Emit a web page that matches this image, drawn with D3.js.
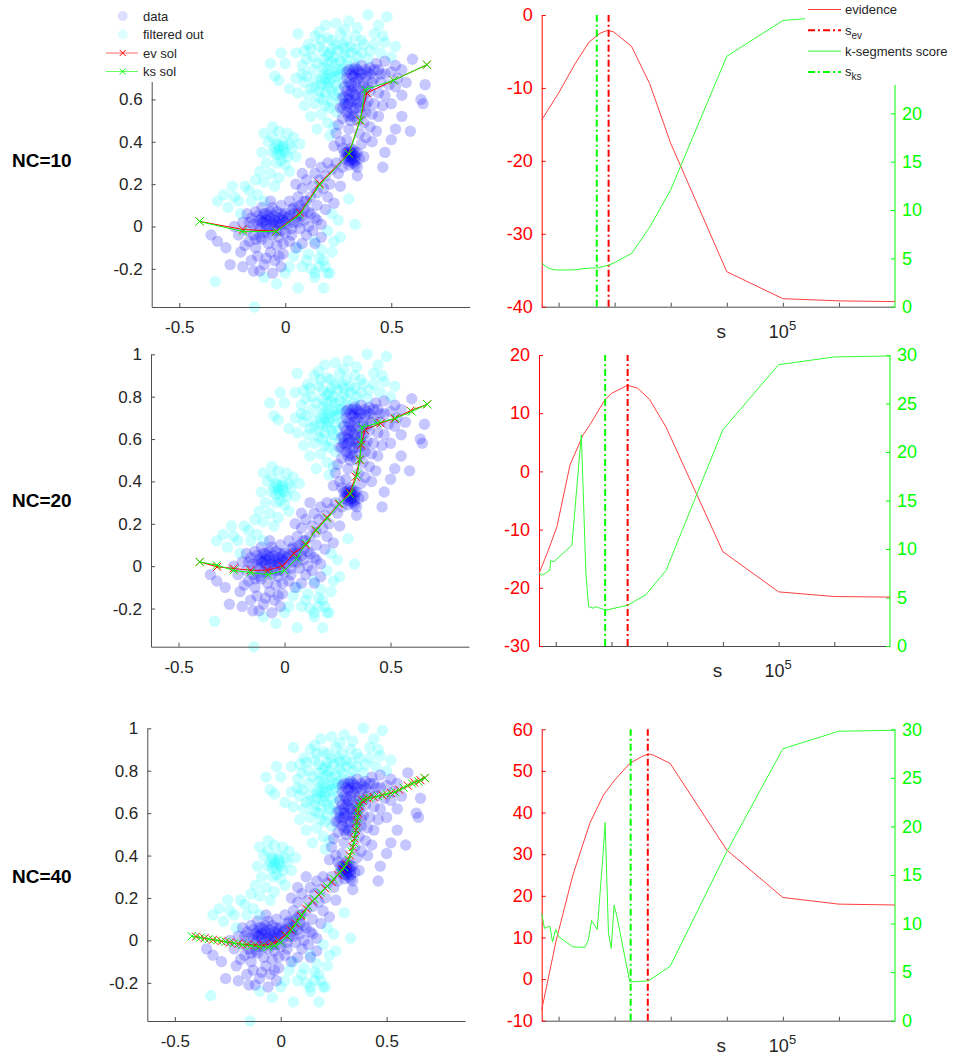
<!DOCTYPE html>
<meta charset="utf-8">
<script src="https://cdnjs.cloudflare.com/ajax/libs/d3/7.8.5/d3.min.js"></script>
<style>
  body { margin: 0; background: #fff; }
  svg { font-family: 'Liberation Sans', Arial, Helvetica, sans-serif; }
</style>
<div id="chart"></div>
<script>

  // ---------- data ----------
  const rowLabels = ['NC=10', 'NC=20', 'NC=40']

  // points kept by the filter (blue)
  const dataPts = [
    [-0.35,-0.04],[-0.32,-0.07],[-0.28,-0.10],[-0.26,-0.18],[-0.24,0.00],[-0.22,-0.04],[-0.21,-0.12],[-0.20,-0.19],[-0.20,0.02],[-0.19,-0.09],
    [-0.18,-0.02],[-0.17,-0.07],[-0.16,0.04],[-0.16,-0.16],[-0.15,-0.04],[-0.15,-0.21],[-0.14,0.07],[-0.14,-0.10],[-0.13,-0.14],[-0.12,0.03],
    [-0.12,-0.01],[-0.12,-0.21],[-0.11,0.09],[-0.11,-0.06],[-0.10,0.02],[-0.10,-0.18],[-0.09,0.06],[-0.09,0.01],[-0.09,-0.15],[-0.08,-0.03],
    [-0.08,-0.08],[-0.07,0.12],[-0.07,0.04],[-0.07,-0.12],[-0.06,0.09],[-0.06,0.02],[-0.06,-0.22],[-0.05,0.00],[-0.05,-0.16],[-0.04,0.07],
    [-0.04,-0.09],[-0.03,0.04],[-0.03,-0.05],[-0.03,-0.14],[-0.02,0.10],[-0.02,-0.02],[-0.02,-0.19],[-0.01,0.03],[-0.01,-0.13],[0.00,0.06],
    [0.00,-0.03],[0.01,0.01],[0.02,0.12],[0.02,-0.07],[0.03,0.08],[0.03,-0.04],[0.04,0.02],[0.05,0.04],[0.05,-0.10],[0.06,0.06],
    [0.07,0.10],[0.07,-0.01],[0.08,-0.08],[0.09,0.03],[0.10,0.12],[0.10,-0.04],[0.11,0.00],[0.12,0.06],[0.13,-0.02],[0.14,-0.08],
    [0.15,0.03],[0.17,-0.05],[-0.11,0.04],[-0.08,0.05],[-0.05,0.05],[-0.13,0.00],[-0.10,-0.03],[-0.04,0.02],[-0.18,0.06],
    [-0.11,0.02],[-0.09,0.03],[-0.07,0.01],[-0.05,0.03],[-0.03,0.01],[-0.01,0.05],[0.01,0.04],[-0.13,0.05],[-0.10,0.06],[-0.08,-0.01],
    [-0.06,-0.04],[-0.04,-0.02],[-0.02,0.01],[0.00,0.02],[0.02,0.05],[0.04,0.06],[-0.12,-0.05],[-0.15,0.01],[-0.17,0.02],[0.06,0.02],
    [0.08,0.05],[0.03,-0.01],[-0.07,0.07],[-0.01,-0.08],[0.06,0.09],[0.09,0.08],[-0.14,-0.06],[-0.02,0.06],
    [0.04,0.09],[0.05,0.20],[0.06,0.14],[0.08,0.18],[0.08,0.25],[0.09,0.12],[0.10,0.22],[0.11,0.07],[0.12,0.14],[0.12,0.30],
    [0.13,0.19],[0.14,0.04],[0.14,0.25],[0.15,0.10],[0.15,0.16],[0.16,0.22],[0.17,0.01],[0.17,0.28],[0.18,0.18],[0.19,0.08],
    [0.19,0.24],[0.20,0.14],[0.20,0.30],[0.21,0.20],[0.22,0.27],[0.23,0.11],[0.24,0.30],[0.25,0.25],[0.26,0.19],[0.27,0.28],
    [0.23,0.38],[0.26,0.40],[0.27,0.37],[0.28,0.32],[0.29,0.35],[0.29,0.41],[0.30,0.31],[0.30,0.33],[0.31,0.34],[0.31,0.37],
    [0.32,0.30],[0.32,0.36],[0.33,0.33],[0.33,0.31],[0.34,0.35],[0.34,0.28],[0.34,0.24],[0.35,0.32],[0.36,0.39],[0.37,0.33],
    [0.31,0.32],[0.30,0.36],[0.30,0.34],[0.31,0.31],[0.32,0.34],[0.32,0.32],[0.33,0.35],[0.29,0.33],[0.31,0.35],[0.33,0.29],
    [0.30,0.29],[0.28,0.35],
    [0.24,0.44],[0.25,0.48],[0.26,0.56],[0.27,0.51],[0.27,0.61],[0.28,0.66],[0.29,0.57],[0.29,0.70],[0.30,0.46],[0.30,0.58],
    [0.30,0.62],[0.30,0.74],[0.31,0.50],[0.31,0.53],[0.31,0.67],[0.31,0.72],[0.32,0.55],[0.32,0.63],[0.32,0.71],[0.33,0.60],
    [0.33,0.68],[0.33,0.75],[0.34,0.50],[0.34,0.58],[0.34,0.65],[0.35,0.44],[0.35,0.56],[0.35,0.70],[0.35,0.73],[0.36,0.61],
    [0.36,0.64],[0.36,0.76],[0.37,0.49],[0.37,0.66],[0.37,0.68],[0.38,0.42],[0.38,0.54],[0.38,0.71],[0.39,0.59],[0.39,0.73],
    [0.40,0.47],[0.40,0.64],[0.40,0.75],[0.41,0.40],[0.41,0.53],[0.42,0.58],[0.42,0.70],[0.43,0.45],[0.43,0.77],[0.44,0.52],
    [0.44,0.63],[0.44,0.74],[0.45,0.68],[0.46,0.57],[0.47,0.62],[0.47,0.72],[0.47,0.78],[0.49,0.67],[0.50,0.58],[0.50,0.73],
    [0.52,0.66],[0.52,0.76],[0.53,0.70],[0.55,0.62],[0.55,0.74],[0.57,0.68],
    [0.29,0.73],[0.30,0.68],[0.32,0.74],[0.33,0.72],[0.34,0.70],[0.34,0.74],[0.31,0.64],[0.32,0.66],[0.33,0.62],[0.29,0.64],
    [0.30,0.60],[0.31,0.59],[0.28,0.58],[0.29,0.54],[0.30,0.52],[0.32,0.52],[0.33,0.56],[0.36,0.72],[0.38,0.74],[0.40,0.72],
    [0.42,0.74],[0.37,0.62],[0.39,0.66],[0.35,0.59],[0.36,0.53],[0.41,0.68],[0.45,0.72],[0.38,0.57],[0.28,0.61],[0.27,0.56],
    [0.60,0.79],[0.66,0.67],[0.65,0.58],[0.64,0.60],[0.59,0.45],[0.55,0.52],[0.52,0.46],[0.50,0.41],[0.47,0.35],[0.46,0.28]
  ]

  // points removed by the filter (cyan)
  const filteredPts = [
    [0.39,1.00],[0.48,0.99],[0.24,0.96],[0.30,0.97],[0.19,0.95],[0.34,0.94],[0.44,0.95],[0.06,0.91],[0.14,0.90],[0.20,0.89],
    [0.26,0.91],[0.33,0.90],[0.42,0.91],[0.47,0.87],[-0.02,0.82],[0.05,0.82],[0.09,0.83],[-0.07,0.77],[0.00,0.77],[-0.05,0.71],
    [-0.03,0.69],[0.52,0.85],[0.11,0.86],[0.16,0.85],[0.22,0.84],[0.27,0.86],[0.31,0.85],[0.37,0.86],[0.40,0.83],[0.45,0.82],
    [0.13,0.80],[0.18,0.79],[0.23,0.80],[0.28,0.81],[0.34,0.80],[0.39,0.79],[0.08,0.76],[0.13,0.74],[0.18,0.75],[0.21,0.72],
    [0.24,0.77],[0.29,0.76],[0.33,0.77],[0.05,0.70],[0.09,0.68],[0.14,0.69],[0.19,0.70],[0.24,0.71],[0.27,0.68],[0.06,0.63],
    [0.11,0.62],[0.16,0.64],[0.20,0.66],[0.23,0.62],[0.26,0.60],[0.09,0.57],[0.14,0.58],[0.18,0.60],[0.21,0.56],[0.24,0.54],
    [0.12,0.52],[0.17,0.53],[0.20,0.49],[0.23,0.47],[0.15,0.46],[0.21,0.43],[0.02,0.65],[0.16,0.92],[0.22,0.88],[0.28,0.93],
    [0.36,0.88],[0.25,0.83],[0.20,0.81],[0.15,0.77],[0.10,0.71],[0.17,0.67],[0.22,0.64],[0.12,0.65],[0.19,0.57],[0.26,0.72],
    [0.29,0.79],[0.42,0.86],[0.50,0.80],[0.46,0.90],
    [0.18,0.72],[0.20,0.74],[0.22,0.70],[0.23,0.73],[0.20,0.77],[0.22,0.78],[0.17,0.70],[0.19,0.68],[0.21,0.68],[0.24,0.67],
    [0.25,0.74],[0.26,0.78],[0.21,0.82],[0.18,0.83],[0.24,0.86],[0.29,0.88],[0.31,0.82],[0.27,0.74],[0.16,0.61],[0.19,0.63],
    [0.22,0.59],[0.14,0.66],[0.25,0.64],[0.28,0.84],[0.33,0.84],[0.36,0.82],[0.17,0.88],[0.12,0.84],[0.10,0.79],[0.08,0.72],
    [-0.10,0.44],[-0.06,0.47],[-0.03,0.45],[0.01,0.44],[0.04,0.42],[-0.08,0.40],[-0.04,0.39],[-0.01,0.38],[0.03,0.37],[0.07,0.39],
    [-0.11,0.35],[-0.06,0.35],[-0.02,0.34],[0.01,0.33],[0.05,0.33],[-0.09,0.30],[-0.04,0.30],[0.00,0.29],[-0.12,0.26],[-0.07,0.25],
    [-0.03,0.23],[0.02,0.26],[-0.10,0.21],[-0.05,0.19],[-0.14,0.22],[-0.03,0.36],[-0.01,0.36],
    [-0.03,0.38],[-0.01,0.40],[-0.04,0.34],[0.00,0.35],[-0.02,0.31],[-0.05,0.37],[0.02,0.39],[-0.06,0.42],
    [-0.29,0.15],[-0.25,0.19],[-0.19,0.19],[-0.22,0.12],[-0.16,0.12],[-0.27,0.09],[-0.21,0.06],[-0.13,0.15],[-0.10,0.12],[-0.32,0.12],
    [-0.17,0.17],[-0.24,0.14],
    [0.06,-0.10],[0.11,-0.13],[0.14,-0.07],[0.17,-0.11],[0.20,-0.02],[0.23,-0.07],[0.19,-0.19],[0.14,-0.24],[0.06,-0.29],[0.00,-0.22],
    [0.02,-0.19],[0.08,-0.19],[0.20,-0.22],[0.18,-0.29],[0.26,-0.05],[0.30,0.13],[0.25,0.03],[0.22,0.06],[0.33,0.01],[0.14,-0.22],
    [0.21,-0.22],[0.10,-0.16],[0.16,-0.15],[0.04,-0.14],[0.16,-0.19],[0.12,-0.20],[0.18,-0.16],[0.22,-0.12],
    [-0.33,-0.26],[-0.145,-0.38],[-0.04,-0.27],[-0.10,-0.24]
  ]

  // fitted polylines (ev sol = red, ks sol = green)
  const evSol10 = [[-0.404,0.024],[-0.20,-0.014],[-0.042,-0.022],[0.07,0.065],[0.162,0.203],[0.30,0.345],[0.352,0.50],[0.385,0.63],[0.51,0.69],[0.668,0.764]]
  const ksSol10 = [[-0.404,0.024],[-0.20,-0.024],[-0.042,-0.024],[0.067,0.055],[0.162,0.196],[0.30,0.342],[0.354,0.502],[0.377,0.646],[0.511,0.69],[0.668,0.764]]
  const evSol20 = [[-0.40,0.02],[-0.318,-0.003],[-0.24,-0.011],[-0.16,-0.019],[-0.08,-0.019],[-0.01,0.0],[0.044,0.06],[0.10,0.10],[0.146,0.17],[0.20,0.23],
    [0.256,0.293],[0.308,0.347],[0.335,0.422],[0.354,0.501],[0.362,0.572],[0.379,0.643],[0.453,0.675],[0.519,0.697],[0.594,0.734],[0.673,0.764]]
  const ksSol20 = [[-0.40,0.02],[-0.32,0.005],[-0.24,-0.02],[-0.16,-0.03],[-0.077,-0.04],[0.0,-0.02],[0.057,0.036],[0.10,0.107],[0.15,0.17],[0.20,0.225],
    [0.26,0.296],[0.31,0.34],[0.343,0.43],[0.355,0.504],[0.362,0.588],[0.366,0.656],[0.437,0.675],[0.524,0.698],[0.60,0.73],[0.673,0.764]]
  const evSol40 = [[-0.40,0.018],[-0.36,0.01],[-0.32,0.003],[-0.28,-0.004],[-0.24,-0.01],[-0.20,-0.016],[-0.16,-0.02],[-0.12,-0.022],[-0.08,-0.022],[-0.04,-0.015],
    [-0.01,0.0],[0.02,0.025],[0.045,0.05],[0.07,0.08],[0.095,0.115],[0.12,0.15],[0.15,0.185],[0.18,0.215],[0.21,0.245],[0.24,0.275],
    [0.27,0.31],[0.29,0.335],[0.31,0.36],[0.327,0.40],[0.34,0.44],[0.348,0.48],[0.355,0.52],[0.36,0.56],[0.365,0.60],[0.372,0.635],
    [0.385,0.66],[0.41,0.67],[0.44,0.675],[0.48,0.685],[0.52,0.695],[0.56,0.71],[0.60,0.73],[0.63,0.745],[0.66,0.755],[0.68,0.766]]
  const ksSol40 = [[-0.42,0.02],[-0.38,0.013],[-0.34,0.006],[-0.30,0.0],[-0.26,-0.006],[-0.22,-0.013],[-0.18,-0.02],[-0.14,-0.025],[-0.10,-0.03],[-0.06,-0.032],
    [-0.03,-0.025],[0.0,-0.01],[0.03,0.02],[0.055,0.055],[0.08,0.09],[0.10,0.12],[0.13,0.16],[0.16,0.195],[0.19,0.225],[0.22,0.255],
    [0.25,0.29],[0.28,0.32],[0.30,0.345],[0.32,0.38],[0.335,0.42],[0.345,0.46],[0.352,0.50],[0.358,0.54],[0.362,0.58],[0.366,0.62],
    [0.375,0.65],[0.39,0.665],[0.42,0.672],[0.46,0.68],[0.50,0.69],[0.54,0.70],[0.58,0.72],[0.62,0.74],[0.65,0.75],[0.68,0.766]]

  // evidence and k-segments score against s
  const sEv10 = [5, 10, 20, 35, 55, 75, 95, 200, 420, 1000, 1e4, 1e5, 1e6, 1e7]
  const evidence10 = [-14.4, -10.7, -6.6, -3.7, -2.5, -2.1, -2.3, -4.3, -9.4, -17.6, -35.2, -38.9, -39.2, -39.3]
  const sKs10 = [5, 6.5, 8.7, 18, 36, 48, 78, 95, 200, 430, 1000, 1e4, 1e5, 2.7e5, 1e6, 1e7]
  const ksScore10 = [4.5, 4.0, 3.8, 3.8, 4.0, 4.0, 4.3, 4.5, 5.5, 8.3, 12.1, 25.9, 29.6, 29.8, 29.9, 29.9]

  const sEv20 = [5, 7, 10.5, 18, 31, 41, 76, 100, 195, 295, 480, 955, 1e4, 1e5, 1e6, 1e7]
  const evidence20 = [-17.5, -14.1, -9.5, 1.1, 6.3, 8.0, 12.3, 13.4, 14.8, 14.3, 12.4, 7.6, -13.8, -20.7, -21.5, -21.6]
  const sKs20 = [5, 5.6, 6.5, 7.8, 8.1, 9.3, 19.5, 28.8, 34.7, 38.9, 46.8, 53.7, 61.7, 79.4, 195, 417, 955, 1e4, 1e5, 1e6, 1e7]
  const ksScore20 = [7.5, 7.3, 7.5, 7.8, 8.8, 8.7, 10.4, 21.8, 7.5, 4.05, 3.9, 4.05, 3.9, 3.7, 4.2, 5.3, 7.8, 22.3, 29.0, 29.8, 29.9]

  const sEv40 = [5, 9.1, 18, 36, 63, 100, 186, 300, 400, 490, 977, 1e4, 1e5, 1e6, 1e7]
  const evidence40 = [-7.4, 9.4, 25.0, 37.4, 44.2, 47.8, 51.8, 53.4, 54.1, 53.8, 51.8, 31.0, 19.6, 18.0, 17.8]
  const sKs40 = [5, 5.6, 6.6, 7, 7.8, 8.9, 10, 18, 29.5, 33.9, 38.9, 49, 61.7, 67.6, 77.6, 87, 97.7, 110, 186, 400, 977, 1e4, 1e5, 1e6, 1e7]
  const ksScore40 = [11.05, 9.5, 9.7, 9.7, 8.1, 9.4, 8.65, 7.6, 7.55, 8.3, 10.3, 9.4, 16.9, 20.4, 9.0, 7.45, 11.9, 10.7, 4.0, 4.1, 5.6, 17.4, 28.0, 29.8, 29.9]

  // chosen s values (vertical dash-dot lines)
  const sEvChosen = [78, 195, 390]
  const sKsChosen = [48, 77, 193]

  // tick values
  const xTicksScatter = [-0.5, 0, 0.5]
  const yTicksScatter = [[-0.2, 0, 0.2, 0.4, 0.6], [-0.2, 0, 0.2, 0.4, 0.6, 0.8, 1], [-0.2, 0, 0.2, 0.4, 0.6, 0.8, 1]]
  const sTicks = [1e1, 1e2, 1e3, 1e4, 1e5, 1e6]
  const evTicks = [[-40, -30, -20, -10, 0], [-30, -20, -10, 0, 10, 20], [-10, 0, 10, 20, 30, 40, 50, 60]]
  const ksTicks = [[0, 5, 10, 15, 20], [0, 5, 10, 15, 20, 25, 30], [0, 5, 10, 15, 20, 25, 30]]

  // ---------- layout ----------
  const W = 957, H = 1057
  const textCol = '#262626', axisCol = '#4d4d4d'
  const red = '#ff0000', green = '#00ff00'
  const xDom = [-0.63, 0.87], yDom = [-0.38, 1.0], sDom = [5, 1e7]

  const scatterBoxes = [
    { left: 151.7, right: 469.7, top: 14.7, bottom: 307 },
    { left: 151, right: 469, top: 354.3, bottom: 646.7 },
    { left: 147.3, right: 465, top: 728.3, bottom: 1021 }
  ]
  const scoreBoxes = [
    { left: 541.7, right: 895, top: 15, bottom: 306.7, evDom: [-40, 0], ksDom: [0, 30.17] },
    { left: 539, right: 890, top: 355, bottom: 646, evDom: [-30, 20], ksDom: [0, 30] },
    { left: 541.7, right: 895, top: 729.3, bottom: 1020.7, evDom: [-10, 60], ksDom: [0, 30] }
  ]
  const rowLabelY = [166.5, 507, 883]

  const svg = d3.select('#chart').append('svg').attr('width', W).attr('height', H)

  const fmt = d => String(+d.toFixed(2))
  const crossPath = 'M-4,-4L4,4M-4,4L4,-4'

  function styleAxis(g, col, textColor, size) {
    g.select('.domain').attr('stroke', col).attr('stroke-width', 1)
    g.selectAll('.tick line').attr('stroke', col)
    g.selectAll('.tick text').attr('fill', textColor).attr('font-size', size)
      .attr('font-family', "'Liberation Sans', Arial, sans-serif")
  }

  function drawCrossLine(g, pts, color, x, y) {
    const line = d3.line().x(d => x(d[0])).y(d => y(d[1]))
    g.append('path').datum(pts).attr('d', line)
      .attr('fill', 'none').attr('stroke', color).attr('stroke-width', 1)
    g.selectAll(null).data(pts).join('path')
      .attr('transform', d => `translate(${x(d[0])},${y(d[1])})`)
      .attr('d', crossPath).attr('stroke', color).attr('stroke-width', 1).attr('fill', 'none')
  }

  function drawScatter(i, evSol, ksSol) {
    const box = scatterBoxes[i]
    const x = d3.scaleLinear().domain(xDom).range([box.left, box.right])
    const y = d3.scaleLinear().domain(yDom).range([box.bottom, box.top])
    const g = svg.append('g')

    g.append('g').selectAll('circle').data(filteredPts).join('circle')
      .attr('cx', d => x(d[0])).attr('cy', d => y(d[1])).attr('r', 5.7)
      .attr('fill', '#00ffff').attr('fill-opacity', 0.2)
    g.append('g').selectAll('circle').data(dataPts).join('circle')
      .attr('cx', d => x(d[0])).attr('cy', d => y(d[1])).attr('r', 5.7)
      .attr('fill', '#0000ff').attr('fill-opacity', 0.22)

    const xa = g.append('g').attr('transform', `translate(0,${box.bottom})`)
      .call(d3.axisBottom(x).tickValues(xTicksScatter).tickSizeInner(-4).tickSizeOuter(0).tickPadding(14).tickFormat(fmt))
    styleAxis(xa, axisCol, textCol, 17)
    const ya = g.append('g').attr('transform', `translate(${box.left},0)`)
      .call(d3.axisLeft(y).tickValues(yTicksScatter[i]).tickSizeInner(-4).tickSizeOuter(0).tickPadding(9).tickFormat(fmt))
    styleAxis(ya, axisCol, textCol, 17)

    drawCrossLine(g, evSol, red, x, y)
    drawCrossLine(g, ksSol, green, x, y)
    return g
  }

  function drawScore(i, sEv, ev, sKs, ks) {
    const box = scoreBoxes[i]
    const x = d3.scaleLog().domain(sDom).range([box.left, box.right])
    const yL = d3.scaleLinear().domain(box.evDom).range([box.bottom, box.top])
    const yR = d3.scaleLinear().domain(box.ksDom).range([box.bottom, box.top])
    const g = svg.append('g')

    const xa = g.append('g').attr('transform', `translate(0,${box.bottom})`)
      .call(d3.axisBottom(x).tickValues(sTicks).tickSizeInner(-4).tickSizeOuter(0).tickFormat(''))
    styleAxis(xa, axisCol, textCol, 18)

    const la = g.append('g').attr('transform', `translate(${box.left},0)`)
      .call(d3.axisLeft(yL).tickValues(evTicks[i]).tickSizeInner(-4).tickSizeOuter(0).tickPadding(9).tickFormat(fmt))
    styleAxis(la, red, red, 18)
    const ra = g.append('g').attr('transform', `translate(${box.right},0)`)
      .call(d3.axisRight(yR).tickValues(ksTicks[i]).tickSizeInner(-4).tickSizeOuter(0).tickPadding(7).tickFormat(fmt))
    styleAxis(ra, green, green, 18)
    // right axis line spans the full height even where ticks are hidden
    ra.select('.domain').attr('d', `M0,${yR(box.ksDom[0])}V${yR(box.ksDom[1])}`)

    const lineL = d3.line().x((d, j) => x(sEv[j])).y(d => yL(d))
    g.append('path').datum(ev).attr('d', lineL)
      .attr('fill', 'none').attr('stroke', '#ff4040').attr('stroke-width', 1)
    g.append('line')
      .attr('x1', x(sEvChosen[i])).attr('x2', x(sEvChosen[i]))
      .attr('y1', yL(box.evDom[0])).attr('y2', yL(box.evDom[1]))
      .attr('stroke', red).attr('stroke-width', 2).attr('stroke-dasharray', '7,3,2,3')

    const lineR = d3.line().x((d, j) => x(sKs[j])).y(d => yR(d))
    g.append('path').datum(ks).attr('d', lineR)
      .attr('fill', 'none').attr('stroke', '#33ff33').attr('stroke-width', 1)
    g.append('line')
      .attr('x1', x(sKsChosen[i])).attr('x2', x(sKsChosen[i]))
      .attr('y1', yR(box.ksDom[0])).attr('y2', yR(box.ksDom[1]))
      .attr('stroke', green).attr('stroke-width', 2).attr('stroke-dasharray', '7,3,2,3')

    // x label and the lone 10^5 tick label
    const cx = (box.left + box.right) / 2 + 3
    g.append('text').attr('x', cx).attr('y', box.bottom + 31)
      .attr('text-anchor', 'middle').attr('font-size', 19).attr('fill', textCol).text('s')
    const t = g.append('text').attr('x', x(1e5) - 14).attr('y', box.bottom + 31)
      .attr('font-size', 18).attr('fill', textCol)
    t.append('tspan').text('10')
    t.append('tspan').attr('dy', -8).attr('font-size', 13).text('5')
    return g
  }

  const evSols = [evSol10, evSol20, evSol40]
  const ksSols = [ksSol10, ksSol20, ksSol40]
  const sEvs = [sEv10, sEv20, sEv40], evs = [evidence10, evidence20, evidence40]
  const sKss = [sKs10, sKs20, sKs40], kss = [ksScore10, ksScore20, ksScore40]

  rowLabels.forEach((lab, i) => {
    drawScatter(i, evSols[i], ksSols[i])
    drawScore(i, sEvs[i], evs[i], sKss[i], kss[i])
    svg.append('text').attr('x', 12).attr('y', rowLabelY[i])
      .attr('font-size', 19).attr('font-weight', 'bold').attr('fill', '#000').text(lab)
  })

  // ---------- legends (top row only) ----------
  const leg1 = svg.append('g')
  leg1.append('rect').attr('x', 100).attr('y', -2).attr('width', 120).attr('height', 84).attr('fill', '#fff')
  const leg1Rows = [
    { label: 'data', kind: 'circle', color: '#0000ff' },
    { label: 'filtered out', kind: 'circle', color: '#00ffff' },
    { label: 'ev sol', kind: 'line', color: red },
    { label: 'ks sol', kind: 'line', color: green }
  ]
  leg1Rows.forEach((r, j) => {
    const yy = 16 + j * 18.5
    if (r.kind === 'circle') {
      leg1.append('circle').attr('cx', 122.7).attr('cy', yy).attr('r', 5).attr('fill', r.color).attr('fill-opacity', 0.13)
    } else {
      leg1.append('line').attr('x1', 106).attr('x2', 138).attr('y1', yy).attr('y2', yy)
        .attr('stroke', r.color).attr('stroke-width', 1).attr('stroke-opacity', 0.6)
      leg1.append('path').attr('transform', `translate(122.7,${yy})`).attr('d', 'M-3,-3L3,3M-3,3L3,-3')
        .attr('stroke', r.color).attr('fill', 'none')
    }
    leg1.append('text').attr('x', 143).attr('y', yy + 4.5).attr('font-size', 13).attr('fill', textCol).text(r.label)
  })

  const leg2 = svg.append('g')
  leg2.append('rect').attr('x', 805).attr('y', -2).attr('width', 155).attr('height', 87).attr('fill', '#fff')
  const leg2Rows = [
    { label: 'evidence', color: '#ff4040', dash: null },
    { label: 's', sub: 'ev', color: red, dash: '7,3,2,3' },
    { label: 'k-segments score', color: '#33ff33', dash: null },
    { label: 's', sub: 'ks', color: green, dash: '7,3,2,3' }
  ]
  leg2Rows.forEach((r, j) => {
    const yy = 9.5 + j * 20.8
    leg2.append('line').attr('x1', 808).attr('x2', 841).attr('y1', yy).attr('y2', yy)
      .attr('stroke', r.color).attr('stroke-width', r.dash ? 2 : 1).attr('stroke-dasharray', r.dash)
    const t = leg2.append('text').attr('x', 845).attr('y', yy + 4.5).attr('font-size', 13).attr('fill', textCol)
    t.append('tspan').text(r.label)
    if (r.sub) t.append('tspan').attr('dy', 4).attr('font-size', 10).text(r.sub)
  })

</script>
